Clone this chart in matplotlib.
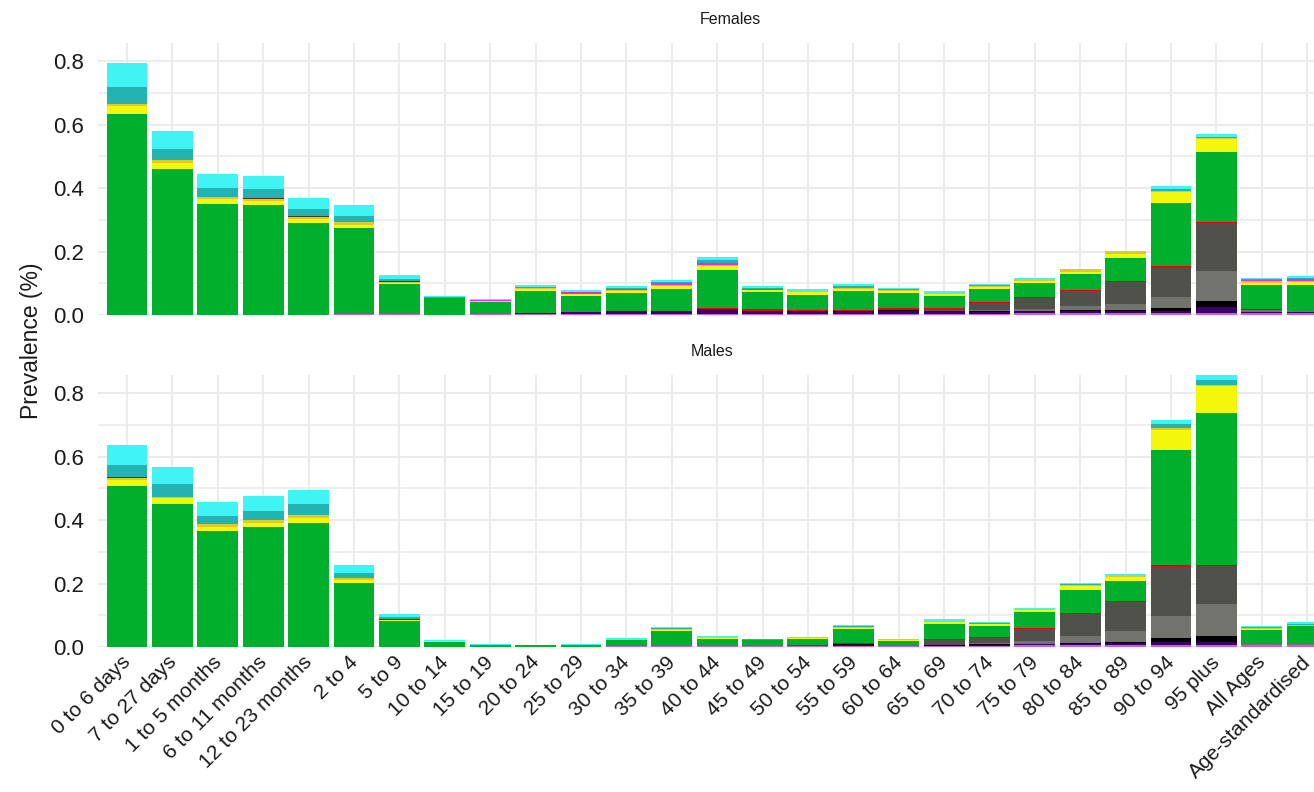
import numpy as np
import matplotlib
matplotlib.use('Agg')
import matplotlib.pyplot as plt
from matplotlib.transforms import ScaledTranslation

plt.rcParams['font.family'] = ['Liberation Sans', 'DejaVu Sans']

cats = ['0 to 6 days', '7 to 27 days', '1 to 5 months', '6 to 11 months', '12 to 23 months',
        '2 to 4', '5 to 9', '10 to 14', '15 to 19', '20 to 24', '25 to 29', '30 to 34',
        '35 to 39', '40 to 44', '45 to 49', '50 to 54', '55 to 59', '60 to 64', '65 to 69',
        '70 to 74', '75 to 79', '80 to 84', '85 to 89', '90 to 94', '95 plus', 'All Ages',
        'Age-standardised']

# Females, one list per cause (stacked bottom -> top)
f_purple = [0, 0, 0, 0, 0, 0.003, 0.002, 0, 0.002, 0.002, 0.003, 0.003, 0.003, 0.003, 0.003, 0.003,
            0.003, 0.004, 0.004, 0.004, 0.005, 0.005, 0.005, 0.005, 0.006, 0.005, 0.005]
f_dpurple = [0, 0, 0, 0, 0, 0, 0, 0, 0, 0.003, 0.006, 0.009, 0.009, 0.015, 0.009, 0.010,
             0.005, 0.010, 0.008, 0.004, 0.006, 0.009, 0.009, 0.009, 0.019, 0.005, 0.005]
f_black = [0, 0, 0, 0, 0, 0, 0, 0, 0, 0, 0, 0, 0, 0, 0, 0,
           0.005, 0.003, 0, 0.003, 0.003, 0.002, 0.003, 0.008, 0.019, 0, 0]
f_lgray = [0, 0, 0, 0, 0, 0, 0, 0, 0, 0, 0, 0, 0, 0, 0, 0,
           0, 0, 0, 0.004, 0.006, 0.012, 0.018, 0.035, 0.095, 0.006, 0.004]
f_dgray = [0, 0, 0, 0, 0, 0, 0, 0, 0, 0, 0, 0, 0, 0, 0, 0,
           0, 0, 0.006, 0.022, 0.034, 0.047, 0.070, 0.092, 0.152, 0, 0]
f_red = [0, 0, 0, 0, 0, 0, 0, 0, 0, 0, 0, 0, 0, 0.004, 0.006, 0.004,
         0.004, 0.005, 0.004, 0.003, 0.003, 0.003, 0.003, 0.004, 0.003, 0.002, 0]
f_green = [0.632, 0.459, 0.351, 0.345, 0.291, 0.272, 0.096, 0.052, 0.039, 0.070, 0.051, 0.057,
           0.070, 0.120, 0.054, 0.047, 0.060, 0.047, 0.038, 0.041, 0.044, 0.051, 0.073, 0.199,
           0.218, 0.076, 0.082]
f_yellow = [0.025, 0.019, 0.013, 0.013, 0.013, 0.009, 0.004, 0, 0.002, 0.006, 0.007, 0.006,
            0.009, 0.011, 0.006, 0.007, 0.006, 0.007, 0.007, 0.007, 0.006, 0.007, 0.010, 0.035,
            0.041, 0.008, 0.008]
f_gold = [0.009, 0.009, 0.009, 0.009, 0.006, 0.009, 0.002, 0, 0, 0.003, 0, 0.003, 0.004, 0.005,
          0.002, 0.003, 0.003, 0.003, 0.002, 0.003, 0.005, 0.006, 0.006, 0.003, 0.005, 0.004, 0.004]
f_brown = [0, 0, 0, 0.003, 0.003, 0, 0.002, 0, 0, 0, 0, 0, 0, 0, 0, 0,
           0, 0, 0, 0, 0, 0, 0, 0, 0, 0, 0]
f_magenta = [0, 0, 0, 0, 0, 0, 0, 0, 0.003, 0.002, 0.005, 0.003, 0.006, 0.006, 0.003, 0,
             0, 0, 0, 0, 0, 0, 0, 0, 0, 0.003, 0.005]
f_teal = [0.051, 0.035, 0.028, 0.028, 0.022, 0.019, 0.006, 0.004, 0, 0.002, 0, 0.003, 0.002,
          0.009, 0.003, 0.003, 0.005, 0.002, 0, 0.003, 0, 0, 0, 0.006, 0.004, 0.003, 0.003]
f_cyan = [0.076, 0.057, 0.044, 0.041, 0.035, 0.035, 0.013, 0.005, 0.003, 0.006, 0.006, 0.006,
          0.006, 0.009, 0.006, 0.005, 0.006, 0.004, 0.005, 0.005, 0.003, 0.004, 0.005, 0.009,
          0.009, 0.006, 0.006]

# Males
m_purple = [0, 0, 0, 0, 0, 0, 0, 0, 0, 0, 0, 0.002, 0.002, 0.002, 0.002, 0.002,
            0.002, 0.002, 0.002, 0.004, 0.005, 0.005, 0.006, 0.006, 0.006, 0.005, 0.005]
m_dpurple = [0, 0, 0, 0, 0, 0, 0, 0, 0, 0, 0, 0, 0, 0, 0, 0,
             0.005, 0, 0.002, 0.002, 0.005, 0.005, 0.006, 0.009, 0.009, 0, 0]
m_black = [0, 0, 0, 0, 0, 0, 0, 0, 0, 0, 0, 0, 0, 0, 0, 0,
           0.002, 0, 0.003, 0.003, 0, 0.003, 0.004, 0.013, 0.019, 0, 0]
m_lgray = [0, 0, 0, 0, 0, 0, 0, 0, 0, 0, 0, 0, 0, 0, 0, 0,
           0, 0, 0, 0.002, 0.009, 0.022, 0.035, 0.070, 0.101, 0.004, 0.003]
m_dgray = [0, 0, 0, 0, 0, 0, 0, 0, 0, 0, 0, 0, 0, 0, 0, 0,
           0, 0, 0.015, 0.018, 0.038, 0.070, 0.090, 0.155, 0.120, 0, 0]
m_red = [0, 0, 0, 0, 0, 0, 0, 0, 0, 0, 0, 0, 0, 0, 0, 0.003,
         0.003, 0, 0.002, 0.002, 0.002, 0.003, 0.003, 0.004, 0.004, 0, 0]
m_green = [0.506, 0.449, 0.364, 0.379, 0.392, 0.202, 0.082, 0.016, 0.006, 0.005, 0.007, 0.019,
           0.047, 0.023, 0.020, 0.019, 0.044, 0.017, 0.047, 0.035, 0.050, 0.073, 0.063, 0.364,
           0.477, 0.044, 0.057]
m_yellow = [0.019, 0.022, 0.013, 0.013, 0.016, 0.009, 0.003, 0.002, 0, 0, 0, 0, 0.005, 0.004,
            0, 0.003, 0.004, 0.003, 0.008, 0.006, 0.006, 0.010, 0.013, 0.063, 0.085, 0.004, 0]
m_gold = [0.006, 0.003, 0.009, 0.009, 0.009, 0.006, 0, 0, 0, 0, 0, 0, 0.003, 0.002, 0, 0.002,
          0.002, 0.003, 0.002, 0.002, 0.005, 0.003, 0.006, 0.006, 0.004, 0.002, 0.003]
m_brown = [0.004, 0, 0, 0, 0, 0, 0.003, 0, 0, 0, 0, 0, 0, 0, 0, 0,
           0, 0, 0, 0, 0, 0, 0, 0, 0, 0, 0]
m_magenta = [0] * 27
m_teal = [0.038, 0.038, 0.028, 0.028, 0.032, 0.016, 0.006, 0, 0, 0, 0, 0.002, 0.003, 0, 0.003, 0,
          0.003, 0, 0.002, 0.002, 0, 0.003, 0, 0.013, 0.016, 0.003, 0.006]
m_cyan = [0.063, 0.054, 0.044, 0.047, 0.047, 0.025, 0.009, 0.004, 0.003, 0.002, 0.003, 0.005,
          0.003, 0.004, 0, 0.002, 0.004, 0, 0.005, 0.003, 0.003, 0.005, 0.004, 0.013, 0.019,
          0.005, 0.006]

colors = ['#C45CF0', '#3B0066', '#000000', '#73736D', '#50514B', '#E8000B', '#00B02D',
          '#F3F70A', '#DCCB2A', '#4A3A20', '#FF1EE6', '#22B4B2', '#41F4F4']
females = [f_purple, f_dpurple, f_black, f_lgray, f_dgray, f_red, f_green, f_yellow, f_gold,
           f_brown, f_magenta, f_teal, f_cyan]
males = [m_purple, m_dpurple, m_black, m_lgray, m_dgray, m_red, m_green, m_yellow, m_gold,
         m_brown, m_magenta, m_teal, m_cyan]

fig = plt.figure(figsize=(13.14, 7.92), dpi=100)
ax_f = fig.add_axes([0.0746, 0.6023, 0.9254, 0.3434])
ax_m = fig.add_axes([0.0746, 0.1831, 0.9254, 0.3434])

x = np.arange(len(cats))
for ax, layers, title, tx in [(ax_f, females, 'Females', 0.52), (ax_m, males, 'Males', 0.505)]:
    bottom = np.zeros(len(cats))
    for vals, col in zip(layers, colors):
        vals = np.array(vals)
        ax.bar(x, vals, 0.9, bottom=bottom, color=col, linewidth=0, zorder=3)
        bottom += vals
    ax.set_xlim(-0.64, 26.15)
    ax.set_ylim(0, 0.857)
    ax.set_yticks([0, 0.2, 0.4, 0.6, 0.8])
    ax.set_yticklabels(['0.0', '0.2', '0.4', '0.6', '0.8'])
    ax.set_yticks([0.1, 0.3, 0.5, 0.7], minor=True)
    ax.set_xticks(x)
    ax.grid(which='major', color='#EBEBEB', linewidth=1.5, zorder=0)
    ax.grid(which='minor', axis='y', color='#EBEBEB', linewidth=1.2, zorder=0)
    ax.set_axisbelow(True)
    for s in ax.spines.values():
        s.set_visible(False)
    ax.tick_params(axis='both', which='both', length=0, labelsize=16, colors='#1A1A1A')
    ax.tick_params(axis='y', pad=10)
    ax.set_title(title, fontsize=11.5, x=tx, pad=14, color='#1A1A1A')

ax_f.set_xticklabels([])
ax_m.set_xticklabels(cats, rotation=45, ha='right', va='top', rotation_mode='anchor',
                     fontsize=15)
ax_m.tick_params(axis='x', pad=4)
# nudge the slanted labels a little left so the last one stays inside the image
shift = ScaledTranslation(-6 / 100, 0, fig.dpi_scale_trans)
for lbl in ax_m.get_xticklabels():
    lbl.set_transform(lbl.get_transform() + shift)

fig.text(0.024, 0.57, 'Prevalence (%)', rotation=90, fontsize=16.5, ha='center', va='center',
         color='#1A1A1A')

fig.savefig('out.png', dpi=100)
